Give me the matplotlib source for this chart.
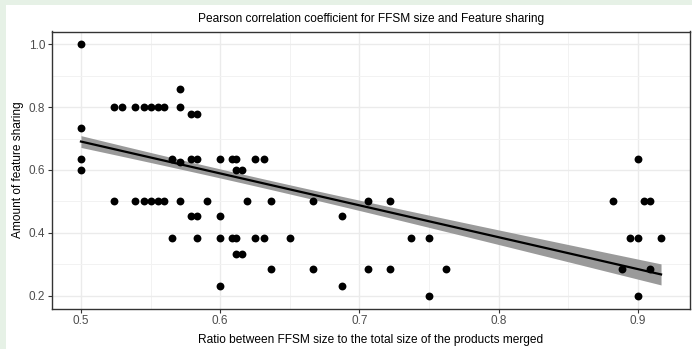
import numpy as np
import matplotlib
matplotlib.use("Agg")
from matplotlib import pyplot as plt
from matplotlib.patches import Rectangle

plt.rcParams['font.family'] = ['Liberation Sans', 'DejaVu Sans']

# ratio (x) and feature sharing (y)
ratio = [
    0.5, 0.5, 0.5, 0.5,
    0.5238, 0.5294, 0.5385, 0.5455, 0.55, 0.5556, 0.56, 0.5714,
    0.5714,
    0.5789, 0.5833,
    0.5652, 0.5789, 0.5833, 0.6, 0.6087, 0.6111, 0.625, 0.6316, 0.9,
    0.5714,
    0.6111, 0.6154,
    0.5238, 0.5385, 0.5455, 0.55, 0.5556, 0.56, 0.5714, 0.5909, 0.619,
    0.6364, 0.6667, 0.7059, 0.7222, 0.8824, 0.9048, 0.9091,
    0.5789, 0.5833, 0.6, 0.6875,
    0.5652, 0.5833, 0.6, 0.6087, 0.6111, 0.625, 0.6316, 0.65, 0.7368,
    0.75, 0.8947, 0.9, 0.9167,
    0.6111, 0.6154,
    0.6364, 0.6667, 0.7059, 0.7222, 0.7619, 0.8889, 0.9091,
    0.6, 0.6875,
    0.75, 0.9,
]
sharing = (
    [1.0, 0.7333, 0.6364, 0.6]
    + [0.8] * 8
    + [0.8571]
    + [0.7778] * 2
    + [0.6364] * 9
    + [0.625]
    + [0.6] * 2
    + [0.5] * 16
    + [0.4545] * 4
    + [0.3846] * 13
    + [0.3333] * 2
    + [0.2857] * 7
    + [0.2308] * 2
    + [0.2] * 2
)
# how many rows of the data sit on each (overlapping) point, estimated
# from the fitted line and the width of its confidence band
counts = (
    [40, 40, 40, 40]
    + [4] * 8
    + [4]
    + [4] * 2
    + [4] * 9
    + [4]
    + [4] * 2
    + [4] * 16
    + [4] * 4
    + [4] * 10 + [8] * 3
    + [4] * 2
    + [4] * 5 + [12] * 2
    + [4] * 2
    + [4, 12]
)

x_ticks = [0.5, 0.6, 0.7, 0.8, 0.9]
y_ticks = [0.2, 0.4, 0.6, 0.8, 1.0]

x = np.array(ratio)
y = np.array(sharing)
xa = np.repeat(x, counts)
ya = np.repeat(y, counts)

# linear fit with 95% confidence band (like geom_smooth(method="lm"))
slope, intercept = np.polyfit(xa, ya, 1)
xs = np.linspace(x.min(), x.max(), 100)
ys = intercept + slope * xs
n = len(xa)
resid = ya - (intercept + slope * xa)
s = np.sqrt(np.sum(resid ** 2) / (n - 2))
se = s * np.sqrt(1 / n + (xs - xa.mean()) ** 2 / np.sum((xa - xa.mean()) ** 2))
t = 1.965

fig = plt.figure(figsize=(6.92, 3.49), dpi=100)
fig.patch.set_facecolor("#E6F1E6")
fig.patches.append(Rectangle((6 / 692, 0), 1, (349 - 5) / 349,
                             transform=fig.transFigure, facecolor="white",
                             edgecolor="none", zorder=-10))

ax = fig.add_axes([52 / 692, (349 - 308.5) / 349, (690 - 52) / 692, 277 / 349])
ax.set_facecolor("white")

ax.fill_between(xs, ys - t * se, ys + t * se, color="#9A9A9A", lw=0, zorder=2)
ax.plot(xs, ys, color="black", lw=1.6, zorder=3)
ax.scatter(x, y, s=32, color="black", zorder=4, linewidths=0)

ax.set_xlim(0.4792, 0.9375)
ax.set_ylim(0.16, 1.04)
ax.set_xticks(x_ticks)
ax.set_xticklabels([f"{v:.1f}" for v in x_ticks])
ax.set_yticks(y_ticks)
ax.set_yticklabels([f"{v:.1f}" for v in y_ticks])
ax.set_xticks([0.55, 0.65, 0.75, 0.85], minor=True)
ax.set_yticks([0.3, 0.5, 0.7, 0.9], minor=True)
ax.grid(True, which="major", color="#EBEBEB", lw=1.0, zorder=0)
ax.grid(True, which="minor", color="#F2F2F2", lw=0.7, zorder=0)
ax.set_axisbelow(True)
ax.tick_params(which="major", length=3, width=0.8, color="#333333",
               labelcolor="#4D4D4D", labelsize=8.5, pad=2)
ax.tick_params(which="minor", length=0)
for sp in ax.spines.values():
    sp.set_color("#333333")
    sp.set_linewidth(1.0)

ax.set_title("Pearson correlation coefficient for FFSM size and Feature sharing",
             fontsize=8.6, color="black", pad=7)
ax.set_xlabel("Ratio between FFSM size to the total size of the products merged",
              fontsize=8.6, labelpad=5)
ax.set_ylabel("Amount of feature sharing", fontsize=8.6, labelpad=3)

fig.savefig("out.png", dpi=100, facecolor=fig.get_facecolor())
